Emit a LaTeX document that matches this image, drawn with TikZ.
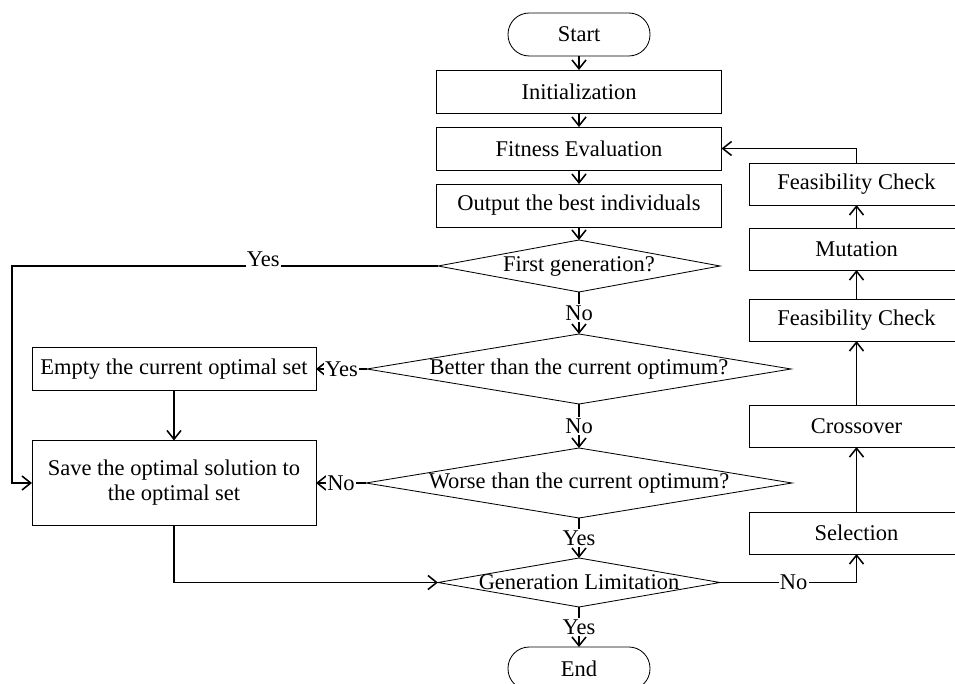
\documentclass[tikz,border=0pt]{standalone}
\usepackage{fontspec}
\setmainfont{Liberation Serif}
\usetikzlibrary{arrows.meta, shapes.geometric, positioning, calc}

\begin{document}
\begin{tikzpicture}[
	node distance=0.35cm,
	every node/.style={font=\fontsize{16}{17.8}\selectfont},
	block/.style={
		rectangle, draw, line width=0.6pt, outer sep=0pt,
		minimum width=7.125cm, minimum height=1.075cm, align=center
	},
	side/.style={block, minimum width=5.35cm, minimum height=1.05cm},
	terminal/.style={block, rounded corners=0.53cm, minimum width=3.55cm},
	decision/.style={diamond, draw, line width=0.6pt, inner sep=0pt, outer sep=0pt},
	lbl/.style={fill=white, inner sep=1pt},
	arrow/.style={-{Straight Barb[length=2.2mm, width=3.5mm]}, line width=1.1pt}
	]
	\useasboundingbox (0,0) rectangle (23.875,-17.1);
	
	% Main column
	\node[terminal] (start) at (14.475,-0.8625) {Start};
	\node[block, below=of start] (init) {Initialization};
	\node[block, below=of init] (fitness) {Fitness Evaluation};
	\node[block, below=of fitness] (output) {Output the best individuals};
	\node[decision, below=0.325cm of output, minimum width=7.05cm, minimum height=1.3cm,
		label=center:{First generation?}] (first) {};
	\node[decision, below=1.05cm of first, minimum width=10.6cm, minimum height=1.75cm,
		label=center:{Better than the current optimum?}] (better) {};
	\node[decision, below=1.1cm of better, minimum width=10.65cm, minimum height=1.75cm,
		label=center:{Worse than the current optimum?}] (worse) {};
	\node[decision, below=1cm of worse, minimum width=7.05cm, minimum height=1.225cm,
		label=center:{Generation Limitation}] (gen) {};
	\node[terminal, below=1cm of gen] (end) {End};
	
	% Left column
	\node[block, minimum width=7.1cm, left=1.275cm of better] (empty) {Empty the current optimal set};
	\node[block, minimum width=7.1cm, minimum height=2.125cm, below=1.25cm of empty] (save) {Save the optimal solution to\\ the optimal set};
	\coordinate[left=0.5cm of save.west] (bypass);
	
	% Right column
	\node[side, right=0.7cm of output, yshift=0.5375cm] (check1) {Feasibility Check};
	\node[side, below=0.575cm of check1] (mutation) {Mutation};
	\node[side, below=0.725cm of mutation] (check2) {Feasibility Check};
	\node[side, below=1.6cm of check2] (crossover) {Crossover};
	\node[side, below=1.625cm of crossover] (selection) {Selection};
	
	% Arrows with labels
	\draw[arrow] (start) -- (init);
	\draw[arrow] (init) -- (fitness);
	\draw[arrow] (fitness) -- (output);
	\draw[arrow] (output) -- (first);
	\draw[arrow] (first) -- node[lbl] {No} (better);
	\draw[arrow] (better) -- node[lbl] {No} (worse);
	\draw[arrow] (worse) -- node[lbl] {Yes} (gen);
	\draw[arrow] (gen) -- node[lbl] {Yes} (end);
	\draw[arrow] (better) -- node[lbl] {Yes} (empty);
	\draw[arrow] (worse) -- node[lbl] {No} (save);
	\draw[arrow] (first) -- node[lbl, pos=.41, yshift=.18cm] {Yes} (first.west -| bypass) -- (bypass) -- (save);
	\draw[arrow] (empty) -- (save);
	\draw[arrow] (save) |- (gen);
	\draw[arrow] (gen) -| node[lbl, pos=.27] {No} (selection);
	\draw[arrow] (selection) -- (crossover);
	\draw[arrow] (crossover) -- (check2);
	\draw[arrow] (check2) -- (mutation);
	\draw[arrow] (mutation) -- (check1);
	\draw[arrow] (check1) |- (fitness);
\end{tikzpicture}
\end{document}
